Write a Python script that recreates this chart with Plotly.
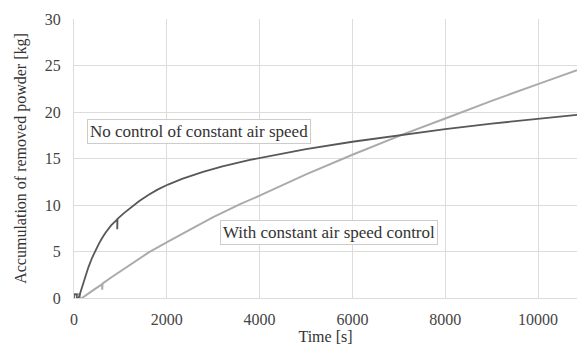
import plotly.graph_objects as go

# No control of constant air speed (dark series)
t_nocontrol = [0, 0, 60, 60, 100, 180, 244, 310, 388, 460, 532, 600, 675, 800, 927, 932, 932, 938,
               1070, 1214, 1400, 1610, 1800, 2026, 2328, 2780, 3200, 3790, 4500, 5000, 6000, 7000,
               8000, 9000, 10000, 10840]
v_nocontrol = [0, 0.4, 0.4, 0, 0, 1.3, 2.3, 3.3, 4.3, 5.1, 5.8, 6.4, 7.0, 7.8, 8.45, 8.45, 7.4, 8.5,
               9.1, 9.7, 10.4, 11.1, 11.65, 12.2, 12.8, 13.55, 14.15, 14.85, 15.55, 16.0, 16.8, 17.5,
               18.15, 18.75, 19.25, 19.7]

# With constant air speed control (light series)
t_control = [0, 100, 130, 130, 172, 400, 603, 608, 608, 614, 800, 1034, 1300, 1610, 2026, 2328,
             2700, 3000, 3580, 4000, 5000, 6000, 7090, 8000, 9000, 10000, 10840]
v_control = [0.4, 0.4, 0.4, 0, 0, 0.8, 1.5, 1.5, 0.9, 1.55, 2.2, 3.0, 3.9, 4.9, 6.05, 6.9,
             7.9, 8.7, 10.1, 11.0, 13.3, 15.4, 17.6, 19.3, 21.2, 23.0, 24.5]

x_ticks = [0, 2000, 4000, 6000, 8000, 10000]
x_tick_text = ["0", "2000", "4000", "6000", "8000", "10000"]
y_ticks = [0, 5, 10, 15, 20, 25, 30]

label_nocontrol = "No control of constant air speed"
label_control = "With constant air speed control"

FONT = "Liberation Serif, DejaVu Serif, serif"

fig = go.Figure()
fig.add_trace(go.Scatter(x=t_control, y=v_control, mode="lines",
                         line=dict(color="#ababab", width=2), showlegend=False))
fig.add_trace(go.Scatter(x=t_nocontrol, y=v_nocontrol, mode="lines",
                         line=dict(color="#585858", width=1.8), showlegend=False))

box = dict(bgcolor="white", bordercolor="#cccccc", borderwidth=1, borderpad=2,
           showarrow=False, font=dict(family=FONT, size=17, color="#333333"))
fig.add_annotation(x=2694, y=17.9, text=label_nocontrol, **box)
fig.add_annotation(x=5485, y=7.0, text=label_control, **box)

fig.update_layout(
    width=577, height=347,
    margin=dict(l=74, r=0, t=19, b=49),
    plot_bgcolor="white", paper_bgcolor="white",
    font=dict(family=FONT, size=15, color="#444444"),
    xaxis=dict(range=[0, 10840], tickvals=x_ticks, ticktext=x_tick_text,
               showgrid=True, gridcolor="#dcdcdc", zeroline=False,
               showline=True, linecolor="#dcdcdc", linewidth=1,
               ticklabelstandoff=7,
               title=dict(text="Time [s]", font=dict(family=FONT, size=16, color="#333333"), standoff=2),
               tickfont=dict(family=FONT, size=16, color="#444444")),
    yaxis=dict(range=[0, 30], tickvals=y_ticks,
               showgrid=True, gridcolor="#dcdcdc", zeroline=False,
               showline=True, linecolor="#dcdcdc", linewidth=1,
               ticklabelstandoff=9,
               title=dict(text="Accumulation of removed powder [kg]",
                          font=dict(family=FONT, size=16, color="#333333"), standoff=14),
               tickfont=dict(family=FONT, size=16, color="#444444")),
)

fig.write_html("out.html")
